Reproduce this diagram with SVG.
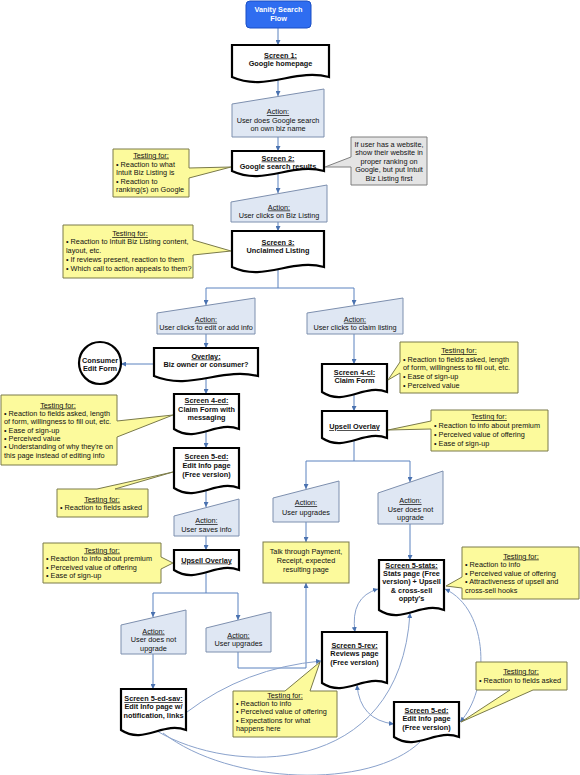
<svg xmlns="http://www.w3.org/2000/svg" width="580" height="775" viewBox="0 0 580 775">
<style>
.doc{fill:#fff;stroke:#000;stroke-width:2.2;stroke-linejoin:miter}
.act{fill:#dfe7f3;stroke:#7d8fae;stroke-width:1}
.call{fill:#fcfa9c;stroke:#7a7a4a;stroke-width:1}
.gray{fill:#e4e4e4;stroke:#7f7f7f;stroke-width:1}
.title{fill:#2f6df0;stroke:#1b4fc4;stroke-width:1}
text{font-family:"Liberation Sans",Arial,sans-serif;font-size:7.3px;fill:#111}
.b{font-weight:bold}
.u{text-decoration:underline}
.c{text-anchor:middle}
.w{fill:#fff}
.conn{fill:none;stroke:#5b82bf;stroke-width:1}
.curve{fill:none;stroke:#8aa2cc;stroke-width:1}
</style>
<defs>
<marker id="ah" viewBox="0 0 6 6" refX="6" refY="3" markerWidth="5" markerHeight="5" markerUnits="userSpaceOnUse" orient="auto-start-reverse">
<path d="M0,0 L6,3 L0,6 z" fill="#4a72b0"/>
</marker>
</defs>

<g id="connectors">
<line class="conn" x1="278" y1="28" x2="278" y2="45" marker-end="url(#ah)"/>
<line class="conn" x1="278" y1="79" x2="278" y2="96" marker-end="url(#ah)"/>
<line class="conn" x1="278" y1="137" x2="278" y2="151" marker-end="url(#ah)"/>
<line class="conn" x1="278" y1="173" x2="278" y2="193" marker-end="url(#ah)"/>
<line class="conn" x1="278" y1="222" x2="278" y2="231" marker-end="url(#ah)"/>
<polyline class="conn" points="278,269 278,288"/>
<polyline class="conn" points="206,288 354,288"/>
<line class="conn" x1="206" y1="288" x2="206" y2="305" marker-end="url(#ah)"/>
<line class="conn" x1="354" y1="288" x2="354" y2="305" marker-end="url(#ah)"/>
<line class="conn" x1="206" y1="334" x2="206" y2="348" marker-end="url(#ah)"/>
<line class="conn" x1="154" y1="364" x2="121" y2="364" marker-end="url(#ah)"/>
<line class="conn" x1="206" y1="378" x2="206" y2="394" marker-end="url(#ah)"/>
<line class="conn" x1="206" y1="431" x2="206" y2="448" marker-end="url(#ah)"/>
<line class="conn" x1="206" y1="490" x2="206" y2="507" marker-end="url(#ah)"/>
<line class="conn" x1="206" y1="536" x2="206" y2="550" marker-end="url(#ah)"/>
<polyline class="conn" points="206,572 206,593"/>
<polyline class="conn" points="153,593 238,593"/>
<line class="conn" x1="153" y1="593" x2="153" y2="617" marker-end="url(#ah)"/>
<line class="conn" x1="238" y1="593" x2="238" y2="620" marker-end="url(#ah)"/>
<line class="conn" x1="153" y1="654" x2="153" y2="689" marker-end="url(#ah)"/>
<polyline class="conn" points="238,652 238,668 306,668 306,583" marker-end="url(#ah)"/>
<line class="conn" x1="354" y1="334" x2="354" y2="364" marker-end="url(#ah)"/>
<line class="conn" x1="354" y1="394" x2="354" y2="411" marker-end="url(#ah)"/>
<polyline class="conn" points="354,440 354,461"/>
<polyline class="conn" points="306,461 410,461"/>
<line class="conn" x1="306" y1="461" x2="306" y2="489" marker-end="url(#ah)"/>
<line class="conn" x1="410" y1="461" x2="410" y2="482" marker-end="url(#ah)"/>
<line class="conn" x1="306" y1="522" x2="306" y2="542" marker-end="url(#ah)"/>
<line class="conn" x1="410" y1="524" x2="410" y2="560" marker-end="url(#ah)"/>
<path class="curve" d="M378,589 Q350,597 355,632" marker-start="url(#ah)" marker-end="url(#ah)"/>
<path class="curve" d="M445,589 C490,610 490,690 460,722" marker-start="url(#ah)" marker-end="url(#ah)"/>
<path class="curve" d="M357,685 Q360,720 394,724" marker-start="url(#ah)" marker-end="url(#ah)"/>
<path class="curve" d="M187,712 Q245,668 321,661" marker-end="url(#ah)"/>
<path class="curve" d="M157,731 C230,775 400,780 410,613" marker-end="url(#ah)"/>
<path class="curve" d="M163,733 C230,785 370,790 420,742"/>
</g>

<g id="start">
<rect class="title" x="246" y="1" width="65" height="27" rx="4"/>
<text class="b c w" x="278.5" y="12">Vanity Search</text>
<text class="b c w" x="278.5" y="21">Flow</text>
</g>

<g id="screen1">
<path class="doc" d="M232,45 H329 V77 C295,68 266,92 232,77 Z"/>
<text class="b c u" x="280.5" y="57.5">Screen 1:</text>
<text class="b c" x="280.5" y="66">Google homepage</text>
</g>

<g id="action1">
<polygon class="act" points="232,104 324,89 324,137 232,137"/>
<text class="c u" x="278" y="114">Action:</text>
<text class="c" x="278" y="122.5">User does Google search</text>
<text class="c" x="278" y="131">on own biz name</text>
</g>

<g id="screen2">
<path class="doc" d="M232,151 H324 V171 C292,162 264,186 232,171 Z"/>
<text class="b c u" x="278" y="160.5">Screen 2:</text>
<text class="b c" x="278" y="168.5">Google search results</text>
</g>

<g id="test2">
<path class="call" d="M113,149 H189 V168 L231,167 L189,178 V197 H113 Z"/>
<text class="c u" x="151" y="157.5">Testing for:</text>
<text x="116" y="166.5">• Reaction to what</text>
<text x="116" y="175">Intuit Biz Listing is</text>
<text x="116" y="183.5">• Reaction to</text>
<text x="116" y="192">ranking(s) on Google</text>
</g>

<g id="note2">
<path class="gray" d="M351,137 H427 V185 H351 V167 L325,167 L351,157 Z"/>
<text class="c" x="389" y="146.5">If user has a website,</text>
<text class="c" x="389" y="155">show their website in</text>
<text class="c" x="389" y="163.5">proper ranking on</text>
<text class="c" x="389" y="172">Google, but put Intuit</text>
<text class="c" x="389" y="180.5">Biz Listing first</text>
</g>

<g id="action2">
<polygon class="act" points="231,202 327,185 327,222 231,222"/>
<text class="c u" x="279" y="209.5">Action:</text>
<text class="c" x="279" y="218">User clicks on Biz Listing</text>
</g>

<g id="screen3">
<path class="doc" d="M232,231 H324 V267 C292,258 264,282 232,267 Z"/>
<text class="b c u" x="278" y="244.5">Screen 3:</text>
<text class="b c" x="278" y="253">Unclaimed Listing</text>
</g>

<g id="test3">
<path class="call" d="M63,225 H193 V240 L231,251 L193,255 V278 H63 Z"/>
<text class="c u" x="130" y="236">Testing for:</text>
<text x="66" y="244.3">• Reaction to Intuit Biz Listing content,</text>
<text x="66" y="253">layout, etc.</text>
<text x="66" y="262">• If reviews present, reaction to them</text>
<text x="66" y="270.5">• Which call to action appeals to them?</text>
</g>

<g id="action-edit">
<polygon class="act" points="157,313 255,298 255,334 157,334"/>
<text class="c u" x="206" y="321.8">Action:</text>
<text class="c" x="206" y="330">User clicks to edit or add info</text>
</g>

<g id="action-claim">
<polygon class="act" points="307,313 403,298 403,334 307,334"/>
<text class="c u" x="355" y="321.8">Action:</text>
<text class="c" x="355" y="330">User clicks to claim listing</text>
</g>

<g id="overlay">
<path class="doc" d="M154,348 H258 V376 C222,367 190,391 154,376 Z"/>
<text class="b c u" x="206" y="358.5">Overlay:</text>
<text class="b c" x="206" y="367">Biz owner or consumer?</text>
</g>

<g id="consumer">
<circle cx="100" cy="363" r="21" fill="#fff" stroke="#000" stroke-width="2.2"/>
<text class="b c" x="100" y="362.5">Consumer</text>
<text class="b c" x="100" y="371">Edit Form</text>
</g>

<g id="screen4ed">
<path class="doc" d="M174,394 H239 V429 C216,420 197,444 174,429 Z"/>
<text class="b c u" x="206.5" y="403">Screen 4-ed:</text>
<text class="b c" x="206.5" y="411.5">Claim Form with</text>
<text class="b c" x="206.5" y="420">messaging</text>
</g>

<g id="test4ed">
<path class="call" d="M1,395 H117 V421 L173,415 L117,437 V465 H1 Z"/>
<text class="c u" x="58" y="407.5">Testing for:</text>
<text x="4" y="416">• Reaction to fields asked, length</text>
<text x="4" y="424.3">of form, willingness to fill out, etc.</text>
<text x="4" y="432.6">• Ease of sign-up</text>
<text x="4" y="441">• Perceived value</text>
<text x="4" y="449.3">• Understanding of why they're on</text>
<text x="4" y="457.6">this page instead of editing info</text>
</g>

<g id="screen5ed-left">
<path class="doc" d="M174,448 H239 V488 C216,479 197,503 174,488 Z"/>
<text class="b c u" x="206.5" y="459">Screen 5-ed:</text>
<text class="b c" x="206.5" y="467.5">Edit Info page</text>
<text class="b c" x="206.5" y="476.5">(Free version)</text>
</g>

<g id="test5ed-left">
<path class="call" d="M57,489 H97 L173,472 L115,489 H148 V517 H57 Z"/>
<text class="c u" x="102" y="501.5">Testing for:</text>
<text x="60" y="509.5">• Reaction to fields asked</text>
</g>

<g id="action-saves">
<polygon class="act" points="174,516 239,499 239,536 174,536"/>
<text class="c u" x="206.5" y="523">Action:</text>
<text class="c" x="206.5" y="531.5">User saves info</text>
</g>

<g id="upsell-left">
<path class="doc" d="M174,550 H239 V570 C216,561 197,585 174,570 Z"/>
<text class="b c u" x="206.5" y="562.5">Upsell Overlay</text>
</g>

<g id="test-upsell-left">
<path class="call" d="M43,543 H161 V557 L173,563 L161,569 V583 H43 Z"/>
<text class="c u" x="102" y="552.5">Testing for:</text>
<text x="46" y="561">• Reaction to info about premium</text>
<text x="46" y="569.5">• Perceived value of offering</text>
<text x="46" y="578">• Ease of sign-up</text>
</g>

<g id="action-noupg-left">
<polygon class="act" points="121,625 186,610 186,654 121,654"/>
<text class="c u" x="153.5" y="633.5">Action:</text>
<text class="c" x="153.5" y="642">User does not</text>
<text class="c" x="153.5" y="650.5">upgrade</text>
</g>

<g id="action-upg-left">
<polygon class="act" points="206,628 271,612 271,652 206,652"/>
<text class="c u" x="238.5" y="637.5">Action:</text>
<text class="c" x="238.5" y="646">User upgrades</text>
</g>

<g id="screen5edsav">
<path class="doc" d="M121,689 H186 V730 C163,721 144,745 121,730 Z"/>
<text class="b c u" x="153.5" y="701">Screen 5-ed-sav:</text>
<text class="b c" x="153.5" y="709.3">Edit Info page w/</text>
<text class="b c" x="153.5" y="717.6">notification, links</text>
</g>

<g id="screen4cl">
<path class="doc" d="M322,364 H387 V392 C364,383 345,407 322,392 Z"/>
<text class="b c u" x="354.5" y="375">Screen 4-cl:</text>
<text class="b c" x="354.5" y="383.3">Claim Form</text>
</g>

<g id="test4cl">
<path class="call" d="M400,342 H518 V393 H400 V373 L388,380 L400,362 Z"/>
<text class="c u" x="459" y="353">Testing for:</text>
<text x="403" y="361.8">• Reaction to fields asked, length</text>
<text x="403" y="370.2">of form, willingness to fill out, etc.</text>
<text x="403" y="379">• Ease of sign-up</text>
<text x="403" y="387.5">• Perceived value</text>
</g>

<g id="upsell-right">
<path class="doc" d="M322,411 H387 V438 C364,429 345,453 322,438 Z"/>
<text class="b c u" x="354.5" y="429">Upsell Overlay</text>
</g>

<g id="test-upsell-right">
<path class="call" d="M431,410 H548 V451 H431 V429 L388,430 L431,421 Z"/>
<text class="c u" x="489" y="419">Testing for:</text>
<text x="434" y="428">• Reaction to info about premium</text>
<text x="434" y="436.8">• Perceived value of offering</text>
<text x="434" y="445.5">• Ease of sign-up</text>
</g>

<g id="action-upg-right">
<polygon class="act" points="273,498 339,481 339,522 273,522"/>
<text class="c u" x="306" y="505">Action:</text>
<text class="c" x="306" y="514.5">User upgrades</text>
</g>

<g id="action-noupg-right">
<polygon class="act" points="378,493 443,471 443,524 378,524"/>
<text class="c u" x="410.5" y="503">Action:</text>
<text class="c" x="410.5" y="511.5">User does not</text>
<text class="c" x="410.5" y="520">upgrade</text>
</g>

<g id="payment">
<rect class="call" x="263" y="542" width="86" height="41"/>
<text class="c" x="306" y="554">Talk through Payment,</text>
<text class="c" x="306" y="563">Receipt, expected</text>
<text class="c" x="306" y="572">resulting page</text>
</g>

<g id="screen5stats">
<path class="doc" d="M379,560 H444 V610 C421,601 402,625 379,610 Z"/>
<text class="b c u" x="411.5" y="567.5">Screen 5-stats:</text>
<text class="b c" x="411.5" y="576">Stats page (Free</text>
<text class="b c" x="411.5" y="584.3">version) + Upsell</text>
<text class="b c" x="411.5" y="592.6">&amp; cross-sell</text>
<text class="b c" x="411.5" y="601">oppty's</text>
</g>

<g id="test5stats">
<path class="call" d="M462,547 H579 V599 H462 V588 L446,586 L462,577 Z"/>
<text class="c u" x="521" y="558.5">Testing for:</text>
<text x="465" y="567">• Reaction to info</text>
<text x="465" y="575.5">• Perceived value of offering</text>
<text x="465" y="584">• Attractiveness of upsell and</text>
<text x="465" y="592.5">cross-sell hooks</text>
</g>

<g id="screen5rev">
<path class="doc" d="M322,632 H387 V683 C364,674 345,698 322,683 Z"/>
<text class="b c u" x="354.5" y="647.5">Screen 5-rev:</text>
<text class="b c" x="354.5" y="656">Reviews page</text>
<text class="b c" x="354.5" y="664.5">(Free version)</text>
</g>

<g id="test5rev">
<path class="call" d="M233,691 H285 L320,662 L310,691 H337 V737 H233 Z"/>
<text class="c u" x="285" y="697.8">Testing for:</text>
<text x="236" y="706">• Reaction to info</text>
<text x="236" y="714.3">• Perceived value of offering</text>
<text x="236" y="722.6">• Expectations for what</text>
<text x="236" y="731">happens here</text>
</g>

<g id="screen5ed-right">
<path class="doc" d="M394,702 H459 V737 C436,728 417,752 394,737 Z"/>
<text class="b c u" x="426.5" y="712.5">Screen 5-ed:</text>
<text class="b c" x="426.5" y="721">Edit Info page</text>
<text class="b c" x="426.5" y="729.5">(Free version)</text>
</g>

<g id="test5ed-right">
<path class="call" d="M476,662 H567 V690 H533 L461,722 L510,690 H476 Z"/>
<text class="c u" x="521" y="673.5">Testing for:</text>
<text x="479" y="682.5">• Reaction to fields asked</text>
</g>
</svg>
